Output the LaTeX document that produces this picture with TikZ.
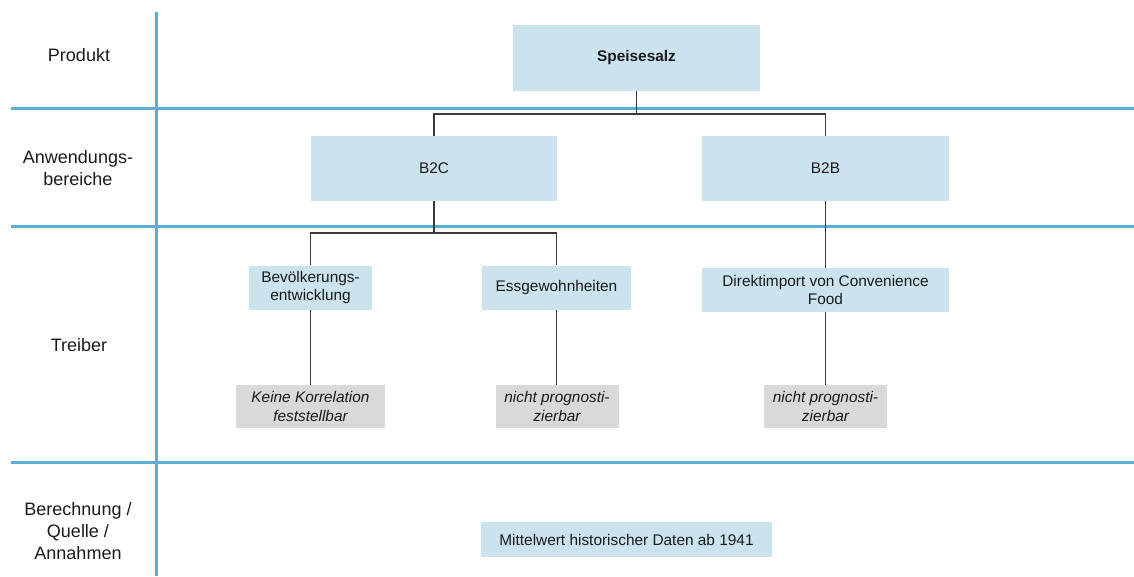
\documentclass[tikz,border=0pt]{standalone}
\usepackage{fontspec}
\setmainfont{Liberation Sans}
\begin{document}
\definecolor{gridblue}{HTML}{5BAFD6}
\definecolor{boxblue}{HTML}{CBE3EF}
\definecolor{boxgrey}{HTML}{D9D9D9}
\definecolor{ink}{HTML}{1A1A1A}
\definecolor{wire}{HTML}{3A3A3A}
\begin{tikzpicture}[x=1pt,y=-1pt,
  every node/.style={text=ink, inner sep=0pt, align=center},
  rowlabel/.style={font=\fontsize{18}{22}\selectfont},
  bluebox/.style={fill=boxblue, font=\fontsize{15.4}{18}\selectfont},
  greybox/.style={fill=boxgrey, font=\fontsize{15.4}{19}\selectfont\itshape},
  gridline/.style={draw=gridblue, line width=3pt},
  link/.style={draw=wire, line width=1.5pt}]
\useasboundingbox (0,0) rectangle (1134,576);

% table grid
\draw[gridline] (156,12) -- (156,576);
\draw[gridline] (11,108) -- (1134,108);
\draw[gridline] (11,226) -- (1134,226);
\draw[gridline] (11,462) -- (1134,462);

% row labels
\node[rowlabel] (lprod) at (79,55) {Produkt};
\node[rowlabel] (lanw) at (78,168) {Anwendungs-\\bereiche};
\node[rowlabel] (ltreib) at (79,345) {Treiber};
\node[rowlabel] (lber) at (78,531) {Berechnung /\\Quelle /\\Annahmen};

% boxes
\node[bluebox, minimum width=247pt, minimum height=66pt, font=\fontsize{15.4}{18}\selectfont\bfseries] (speise) at (636.5,58) {Speisesalz};
\node[bluebox, minimum width=246pt, minimum height=65pt] (b2c) at (434,168.5) {B2C};
\node[bluebox, minimum width=247pt, minimum height=65pt] (b2b) at (825.5,168.5) {B2B};

\node[bluebox, minimum width=123pt, minimum height=44pt] (bev) at (310.5,287.5) {Bevölkerungs-\\entwicklung};
\node[bluebox, minimum width=149pt, minimum height=44pt] (ess) at (556.5,287.5) {Essgewohnheiten};
\node[bluebox, minimum width=247pt, minimum height=44pt] (dir) at (825.5,290) {Direktimport von Convenience\\Food};

\node[greybox, minimum width=149pt, minimum height=43pt] (g1) at (310.5,406.5) {Keine Korrelation\\feststellbar};
\node[greybox, minimum width=123pt, minimum height=43pt] (g2) at (557,406.5) {nicht prognosti-\\zierbar};
\node[greybox, minimum width=123pt, minimum height=43pt] (g3) at (825.5,406.5) {nicht prognosti-\\zierbar};

\node[bluebox, minimum width=291pt, minimum height=35pt] (mittel) at (626.5,539.5) {Mittelwert historischer Daten ab 1941};

% connectors
\coordinate (j1) at (636.5,114);
\coordinate (j2) at (434,233);
\draw[link] (speise.south) -- (j1);
\draw[link] (b2c.north) |- (j1) -| (b2b.north);
\draw[link] (b2c.south) -- (j2);
\draw[link] (bev.north) |- (j2) -| (ess.north);
\draw[link] (b2b.south) -- (dir.north);
\draw[link] (bev.south) -- (g1.north);
\draw[link] (ess.south) -- (ess.south |- g2.north);
\draw[link] (dir.south) -- (g3.north);
\end{tikzpicture}
\end{document}
